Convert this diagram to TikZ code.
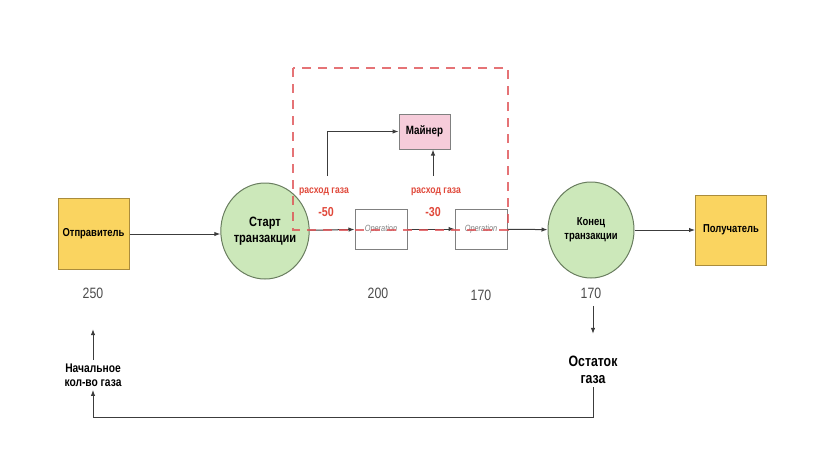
\documentclass[tikz,border=0pt]{standalone}
\usepackage{fontspec}
\setmainfont{Liberation Sans}[FakeStretch=0.82]
\usetikzlibrary{arrows.meta,shapes.geometric}
\definecolor{partyfill}{RGB}{250,212,96}
\definecolor{partyedge}{RGB}{170,140,60}
\definecolor{txfill}{RGB}{204,232,186}
\definecolor{txedge}{RGB}{105,125,95}
\definecolor{minerfill}{RGB}{246,204,218}
\definecolor{feered}{RGB}{224,72,58}
\definecolor{framered}{RGB}{222,80,84}
\definecolor{numgray}{RGB}{75,75,75}
\definecolor{linegray}{RGB}{60,60,60}
\begin{document}
\begin{tikzpicture}[x=1pt,y=-1pt,
    party/.style={draw=partyedge,fill=partyfill,line width=1pt,minimum width=71pt,minimum height=71pt,font=\bfseries\fontsize{11.5}{13}\selectfont},
    txnode/.style={ellipse,draw=txedge,fill=txfill,line width=1pt,inner sep=0pt,minimum width=86pt,minimum height=96pt,align=center,font=\bfseries\fontsize{13.5}{16}\selectfont},
    opbox/.style={draw=gray,fill=white,line width=1pt,minimum width=52pt,minimum height=40pt,text=gray,font=\itshape\fontsize{9}{10}\selectfont},
    minerbox/.style={draw=gray,fill=minerfill,line width=1pt,minimum width=51pt,minimum height=35pt,font=\bfseries\fontsize{12}{14}\selectfont},
    gasnum/.style={text=numgray,font=\fontsize{15}{17}\selectfont},
    gasnote/.style={align=center,font=\bfseries\fontsize{12.5}{14}\selectfont},
    feenote/.style={text=feered,font=\bfseries\fontsize{10.5}{12}\selectfont},
    feenum/.style={text=feered,font=\bfseries\fontsize{13}{15}\selectfont}]
  \useasboundingbox (0,0) rectangle (830,467);
  \draw
    (93.5,234) node[party] (send){Отправитель}
    (265,231) node[txnode] (start){Старт\\транзакции}
    (381,229) node[opbox] (op1){Operation}
    (481,229) node[opbox] (op2){Operation}
    (591,230) node[txnode,font=\bfseries\fontsize{11.5}{14}\selectfont] (end){Конец\\транзакции}
    (731,230) node[party,minimum height=70pt] (recv){Получатель}
    (424.5,131.5) node[minerbox] (miner){Майнер}
    (93,293) node[gasnum] (n0){250}
    (378,293) node[gasnum] (n1){200}
    (481,295) node[gasnum] (n2){170}
    (591,293) node[gasnum] (n3){170}
    (93,375) node[gasnote] (init){Начальное\\кол-во газа}
    (593,370) node[gasnote,font=\bfseries\fontsize{15}{17}\selectfont] (rest){Остаток\\газа}
    (324,192) node[feenote] (fee1){расход газа}
    (326,212) node[feenum] (d1){-50}
    (436,192) node[feenote] (fee2){расход газа}
    (433,212) node[feenum] (d2){-30};
  \coordinate (c1) at (327,176);
  \coordinate (c2) at (433,176);
  \coordinate (loop) at (93,417);
  \begin{scope}[linegray,line width=1pt,-{Latex[length=6pt,width=4.5pt]}]
    \draw (send.east) to (send.east-|start.west);
    \draw (start) to (op1);
    \draw (op1) to (op2);
    \draw (op2) to (end);
    \draw (end) to (recv);
    \draw (c1) |- (miner.west);
    \draw (c2) to (c2|-miner.south);
    \draw (init.north) to ++(0,-31);
    \draw (n3.south) ++(2,4) to ++(0,28);
    \draw (rest.south) |- (loop) to (init.south);
  \end{scope}
  \draw[framered,line width=2.2pt,dash pattern=on 9pt off 7pt,opacity=0.8]
    (293,68) rectangle (508,230);
\end{tikzpicture}
\end{document}
